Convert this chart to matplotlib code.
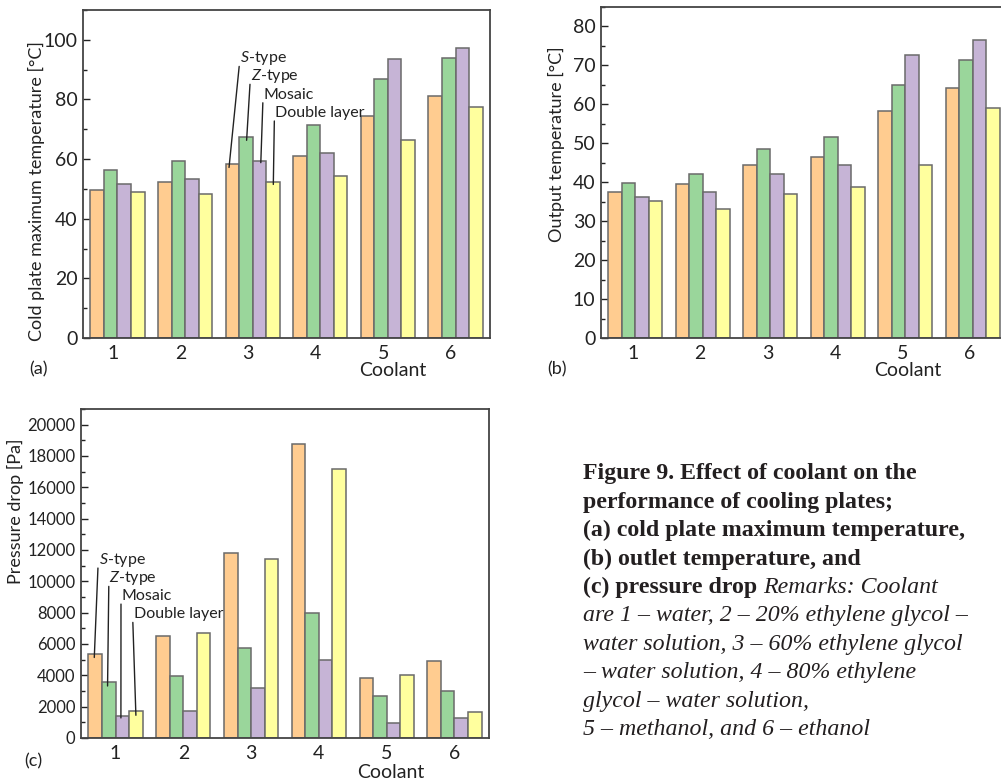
import numpy as np
import matplotlib
matplotlib.use('Agg')
import matplotlib.pyplot as plt

FONT = 'Lato'
plt.rcParams['font.family'] = [FONT, 'DejaVu Sans']
plt.rcParams['mathtext.fontset'] = 'custom'
plt.rcParams['mathtext.rm'] = FONT
plt.rcParams['mathtext.it'] = FONT + ':italic'

coolants = ['1', '2', '3', '4', '5', '6']
series = ['$\\mathit{S}$-type', '$\\mathit{Z}$-type', 'Mosaic', 'Double layer']
colors = ['#ffcc90', '#9ad69b', '#c6b4d6', '#ffff9e']

# (a) cold plate maximum temperature [°C]
tmax_s = [49.7, 52.4, 58.4, 61.2, 74.3, 81.2]
tmax_z = [56.2, 59.2, 67.3, 71.3, 86.7, 93.9]
tmax_m = [51.7, 53.4, 59.2, 62.1, 93.5, 97.3]
tmax_d = [49.1, 48.2, 52.4, 54.4, 66.3, 77.5]

# (b) output temperature [°C]
tout_s = [37.6, 39.5, 44.3, 46.5, 58.3, 64.1]
tout_z = [39.9, 42.2, 48.5, 51.7, 64.9, 71.4]
tout_m = [36.2, 37.6, 42.1, 44.4, 72.6, 76.5]
tout_d = [35.3, 33.0, 37.1, 38.9, 44.4, 59.0]

# (c) pressure drop [Pa]
dp_s = [5350, 6500, 11800, 18750, 3800, 4900]
dp_z = [3550, 3950, 5750, 8000, 2700, 3000]
dp_m = [1400, 1750, 3200, 4950, 950, 1300]
dp_d = [1750, 6700, 11450, 17200, 4050, 1650]

# annotation label positions (text) and the bar points they point at
ann_a_text = [(2.81, 92.4), (2.97, 86.4), (3.16, 80.2), (3.33, 74.1)]
ann_a_tip = [(2.65, 57.2), (2.91, 66.3), (3.12, 58.8), (3.305, 51.5)]
ann_c_text = [(0.75, 11100), (0.91, 9930), (1.09, 8800), (1.265, 7630)]
ann_c_tip = [(0.686, 5140), (0.882, 3320), (1.079, 1280), (1.30, 1450)]

W, H = 1001, 780
fig = plt.figure(figsize=(W / 100, H / 100), dpi=100)


def px_axes(l, t, r, b):
    return fig.add_axes([l / W, 1 - b / H, (r - l) / W, (b - t) / H])


def draw_bars(ax, data, ylim, major, minor, tick_off, ysize=14):
    x = np.arange(1, len(coolants) + 1)
    w = 0.2
    for i, vals in enumerate(data):
        ax.bar(x + (i - 1.5) * w, vals, width=w, color=colors[i],
               edgecolor='#6a6a6a', linewidth=1.1, zorder=2)
    ax.set_xlim(0.49, 6.51)
    ax.set_ylim(*ylim)
    ax.set_xticks(x + tick_off)
    ax.set_xticklabels(coolants)
    ax.set_yticks(np.arange(0, ylim[1] + 1, major))
    ax.set_yticks(np.arange(0, ylim[1] + 1, minor), minor=True)
    ax.tick_params(axis='x', length=0, labelsize=14, pad=5, colors='#222222')
    ax.tick_params(axis='y', which='major', direction='in', length=5,
                   width=1, labelsize=ysize, pad=4, colors='#222222')
    ax.tick_params(axis='y', which='minor', direction='in', length=3, width=1,
                   colors='#222222')
    for sp in ax.spines.values():
        sp.set_color('#444444')
        sp.set_linewidth(1.3)


def annotate(ax, texts, tips):
    dy = 0.012 * ax.get_ylim()[1]
    for lab, (tx, ty), (ex, ey) in zip(series, texts, tips):
        ax.text(tx, ty, lab, fontsize=11.5, ha='left', va='baseline',
                color='#222222', zorder=5)
        ax.annotate('', xy=(ex, ey), xytext=(tx - 0.01, ty - dy),
                    arrowprops=dict(arrowstyle='-', color='#222222', lw=1,
                                    shrinkA=0, shrinkB=0), zorder=5)


def fig_text(x, y, s, **kw):
    fig.text(x / W, 1 - y / H, s, ha='center', va='center',
             color='#222222', **kw)


# (a)
ax_a = px_axes(83, 10, 490, 338)
draw_bars(ax_a, [tmax_s, tmax_z, tmax_m, tmax_d], (0, 110), 20, 10, -0.07)
annotate(ax_a, ann_a_text, ann_a_tip)
fig_text(39, 369, '(a)', fontsize=13)
fig_text(393, 370, 'Coolant', fontsize=14)
fig_text(36, 191, 'Cold plate maximum temperature [°C]', fontsize=13, rotation=90)

# (b)
ax_b = px_axes(601, 7, 1007, 338)
draw_bars(ax_b, [tout_s, tout_z, tout_m, tout_d], (0, 85), 10, 5, -0.04)
fig_text(557, 369, '(b)', fontsize=13)
fig_text(908, 370, 'Coolant', fontsize=14)
fig_text(556, 144, 'Output temperature [°C]', fontsize=13, rotation=90)

# (c)
ax_c = px_axes(81, 409, 489, 738)
draw_bars(ax_c, [dp_s, dp_z, dp_m, dp_d], (0, 21000), 2000, 1000, 0.0,
          ysize=12)
annotate(ax_c, ann_c_text, ann_c_tip)
fig_text(33, 761, '(c)', fontsize=13)
fig_text(391, 773, 'Coolant', fontsize=14)
fig_text(15, 511, 'Pressure drop [Pa]', fontsize=13, rotation=90)

# caption
cap_x = 583 / W
bold_lines = ['Figure 9. Effect of coolant on the',
              'performance of cooling plates;',
              '(a) cold plate maximum temperature,',
              '(b) outlet temperature, and']
ital_lines = ['are 1 – water, 2 – 20% ethylene glycol –',
              'water solution, 3 – 60% ethylene glycol',
              '– water solution, 4 – 80% ethylene',
              'glycol – water solution,',
              '5 – methanol, and 6 – ethanol']
serif = ['Liberation Serif', 'DejaVu Serif']
cap_size = 17.2
line_y = 474
step = 28.4
for s in bold_lines:
    fig.text(cap_x, 1 - line_y / H, s, family=serif, fontweight='bold',
             fontsize=cap_size, va='center', ha='left', color='#231f20')
    line_y += step
t = fig.text(cap_x, 1 - line_y / H, '(c) pressure drop ', family=serif,
             fontweight='bold', fontsize=cap_size, va='center', ha='left',
             color='#231f20')
fig.canvas.draw()
bb = t.get_window_extent()
fig.text(bb.x1 / W, 1 - line_y / H, 'Remarks: Coolant', family=serif,
         style='italic', fontsize=cap_size, va='center', ha='left',
         color='#231f20')
line_y += step
for s in ital_lines:
    fig.text(cap_x, 1 - line_y / H, s, family=serif, style='italic',
             fontsize=cap_size, va='center', ha='left', color='#231f20')
    line_y += step

fig.savefig('out.png', dpi=100)
